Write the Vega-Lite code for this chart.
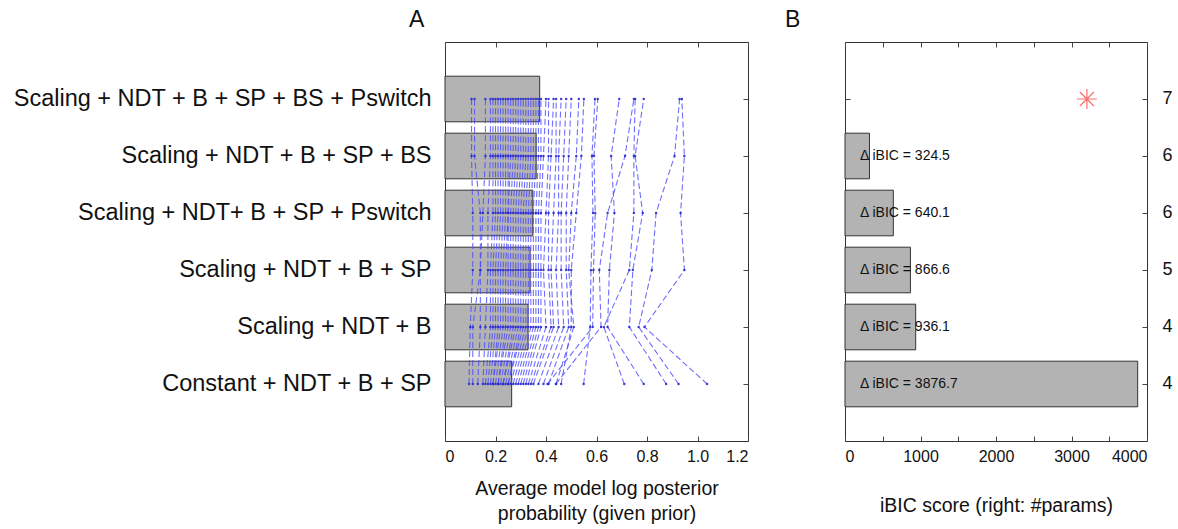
{
  "$schema": "https://vega.github.io/schema/vega-lite/v6.json",
  "background": "white",
  "padding": {"left": 11, "top": 8, "right": 2, "bottom": 2},
  "config": {
    "view": {"stroke": "#333", "strokeWidth": 1},
    "font": "Liberation Sans",
    "axis": {"domain": false, "grid": false, "tickColor": "#444", "tickSize": -5, "labelColor": "#111", "labelFont": "Liberation Sans", "titleFont": "Liberation Sans", "titleFontWeight": "normal", "titleColor": "#111"},
    "title": {"font": "Liberation Sans", "fontWeight": "normal", "fontSize": 23, "color": "#111", "anchor": "start", "frame": "group"},
    "concat": {"spacing": 35}
  },
  "datasets": {
    "models": [
      {"key": "m6", "row": 6, "model": "Scaling + NDT + B + SP + BS + Pswitch", "avg": 0.375, "dbic": 0, "label": ""},
      {"key": "m5", "row": 5, "model": "Scaling + NDT + B + SP + BS", "avg": 0.361, "dbic": 324.5, "label": "Δ iBIC = 324.5"},
      {"key": "m4", "row": 4, "model": "Scaling + NDT+ B + SP + Pswitch", "avg": 0.348, "dbic": 640.1, "label": "Δ iBIC = 640.1"},
      {"key": "m3", "row": 3, "model": "Scaling + NDT + B + SP", "avg": 0.337, "dbic": 866.6, "label": "Δ iBIC = 866.6"},
      {"key": "m2", "row": 2, "model": "Scaling + NDT + B", "avg": 0.329, "dbic": 936.1, "label": "Δ iBIC = 936.1"},
      {"key": "m1", "row": 1, "model": "Constant + NDT + B + SP", "avg": 0.264, "dbic": 3876.7, "label": "Δ iBIC = 3876.7"}
    ],
    "best": [{"model": "Scaling + NDT + B + SP + BS + Pswitch", "ibic": 3204}],
    "subjects": [
      {"s": "a", "m6": 0.938, "m5": 0.948, "m4": 0.933, "m3": 0.948, "m2": 0.790, "m1": 1.038},
      {"s": "b", "m6": 0.929, "m5": 0.909, "m4": 0.836, "m3": 0.819, "m2": 0.767, "m1": 0.925},
      {"s": "c", "m6": 0.787, "m5": 0.753, "m4": 0.783, "m3": 0.744, "m2": 0.730, "m1": 0.876},
      {"s": "d", "m6": 0.753, "m5": 0.748, "m4": 0.748, "m3": 0.730, "m2": 0.629, "m1": 0.710},
      {"s": "e", "m6": 0.748, "m5": 0.713, "m4": 0.644, "m3": 0.611, "m2": 0.618, "m1": 0.439},
      {"s": "f", "m6": 0.690, "m5": 0.658, "m4": 0.671, "m3": 0.651, "m2": 0.644, "m1": 0.787},
      {"s": "g", "m6": 0.594, "m5": 0.582, "m4": 0.586, "m3": 0.578, "m2": 0.575, "m1": 0.549},
      {"s": "h", "m6": 0.605, "m5": 0.590, "m4": 0.595, "m3": 0.588, "m2": 0.585, "m1": 0.406},
      {"s": "l1", "m6": 0.105, "m5": 0.105, "m4": 0.110, "m3": 0.110, "m2": 0.100, "m1": 0.095},
      {"s": "l2", "m6": 0.117, "m5": 0.117, "m4": 0.140, "m3": 0.140, "m2": 0.110, "m1": 0.110},
      {"s": "d1", "m6": 0.16, "m5": 0.16, "m4": 0.15, "m3": 0.14, "m2": 0.14, "m1": 0.13},
      {"s": "d2", "m6": 0.18, "m5": 0.18, "m4": 0.17, "m3": 0.17, "m2": 0.16, "m1": 0.15},
      {"s": "d3", "m6": 0.19, "m5": 0.19, "m4": 0.19, "m3": 0.18, "m2": 0.18, "m1": 0.16},
      {"s": "d4", "m6": 0.20, "m5": 0.20, "m4": 0.20, "m3": 0.19, "m2": 0.19, "m1": 0.17},
      {"s": "d5", "m6": 0.21, "m5": 0.21, "m4": 0.21, "m3": 0.20, "m2": 0.20, "m1": 0.18},
      {"s": "d6", "m6": 0.22, "m5": 0.22, "m4": 0.22, "m3": 0.21, "m2": 0.21, "m1": 0.19},
      {"s": "d7", "m6": 0.23, "m5": 0.23, "m4": 0.23, "m3": 0.22, "m2": 0.22, "m1": 0.19},
      {"s": "d8", "m6": 0.24, "m5": 0.24, "m4": 0.24, "m3": 0.23, "m2": 0.23, "m1": 0.20},
      {"s": "d9", "m6": 0.25, "m5": 0.25, "m4": 0.25, "m3": 0.24, "m2": 0.24, "m1": 0.21},
      {"s": "d10", "m6": 0.26, "m5": 0.26, "m4": 0.25, "m3": 0.25, "m2": 0.25, "m1": 0.21},
      {"s": "d11", "m6": 0.27, "m5": 0.27, "m4": 0.26, "m3": 0.26, "m2": 0.26, "m1": 0.22},
      {"s": "d12", "m6": 0.28, "m5": 0.28, "m4": 0.27, "m3": 0.27, "m2": 0.27, "m1": 0.23},
      {"s": "d13", "m6": 0.29, "m5": 0.29, "m4": 0.28, "m3": 0.28, "m2": 0.28, "m1": 0.23},
      {"s": "d14", "m6": 0.30, "m5": 0.30, "m4": 0.29, "m3": 0.29, "m2": 0.29, "m1": 0.24},
      {"s": "d15", "m6": 0.31, "m5": 0.31, "m4": 0.30, "m3": 0.30, "m2": 0.30, "m1": 0.25},
      {"s": "d16", "m6": 0.32, "m5": 0.32, "m4": 0.31, "m3": 0.31, "m2": 0.31, "m1": 0.25},
      {"s": "d17", "m6": 0.33, "m5": 0.33, "m4": 0.32, "m3": 0.32, "m2": 0.32, "m1": 0.26},
      {"s": "d18", "m6": 0.34, "m5": 0.34, "m4": 0.33, "m3": 0.33, "m2": 0.33, "m1": 0.27},
      {"s": "d19", "m6": 0.35, "m5": 0.35, "m4": 0.34, "m3": 0.34, "m2": 0.34, "m1": 0.28},
      {"s": "d20", "m6": 0.36, "m5": 0.36, "m4": 0.35, "m3": 0.35, "m2": 0.35, "m1": 0.29},
      {"s": "d21", "m6": 0.37, "m5": 0.37, "m4": 0.36, "m3": 0.36, "m2": 0.36, "m1": 0.30},
      {"s": "d22", "m6": 0.38, "m5": 0.38, "m4": 0.37, "m3": 0.37, "m2": 0.37, "m1": 0.31},
      {"s": "d23", "m6": 0.40, "m5": 0.39, "m4": 0.38, "m3": 0.38, "m2": 0.38, "m1": 0.32},
      {"s": "d24", "m6": 0.41, "m5": 0.41, "m4": 0.40, "m3": 0.39, "m2": 0.40, "m1": 0.33},
      {"s": "d25", "m6": 0.43, "m5": 0.42, "m4": 0.41, "m3": 0.41, "m2": 0.42, "m1": 0.34},
      {"s": "d26", "m6": 0.44, "m5": 0.44, "m4": 0.43, "m3": 0.42, "m2": 0.43, "m1": 0.35},
      {"s": "d27", "m6": 0.46, "m5": 0.45, "m4": 0.45, "m3": 0.44, "m2": 0.45, "m1": 0.37},
      {"s": "d28", "m6": 0.48, "m5": 0.47, "m4": 0.46, "m3": 0.46, "m2": 0.47, "m1": 0.39},
      {"s": "d29", "m6": 0.50, "m5": 0.49, "m4": 0.48, "m3": 0.48, "m2": 0.49, "m1": 0.41},
      {"s": "d30", "m6": 0.53, "m5": 0.52, "m4": 0.50, "m3": 0.49, "m2": 0.51, "m1": 0.44},
      {"s": "d31", "m6": 0.55, "m5": 0.54, "m4": 0.52, "m3": 0.50, "m2": 0.50, "m1": 0.46}
    ]
  },
  "hconcat": [
    {
      "title": {"text": "A", "dx": -36, "offset": 10},
      "width": 303,
      "height": 399,
      "layer": [
        {
          "data": {"name": "models"},
          "mark": {"type": "bar", "fill": "#b3b3b3", "stroke": "#333", "strokeWidth": 1},
          "encoding": {
            "x": {"field": "avg", "type": "quantitative", "scale": {"domain": [0, 1.2], "nice": false},
              "axis": {"orient": "bottom", "values": [0, 0.2, 0.4, 0.6, 0.8, 1.0, 1.2], "labelExpr": "datum.value == 0 ? '0' : format(datum.value, '.1f')", "labelFontSize": 16, "labelPadding": 12, "title": ["Average model log posterior", "probability (given prior)"], "titleFontSize": 19.5, "titlePadding": 15, "titleLineHeight": 25}},
            "y": {"field": "model", "type": "nominal",
              "sort": ["Scaling + NDT + B + SP + BS + Pswitch", "Scaling + NDT + B + SP + BS", "Scaling + NDT+ B + SP + Pswitch", "Scaling + NDT + B + SP", "Scaling + NDT + B", "Constant + NDT + B + SP"],
              "scale": {"paddingInner": 0.2, "paddingOuter": 0.6},
              "axis": {"orient": "left", "labelFontSize": 23.5, "labelPadding": 19, "title": null, "labelLimit": 600}}
          }
        },
        {
          "data": {"name": "subjects"},
          "transform": [
            {"fold": ["m1", "m2", "m3", "m4", "m5", "m6"], "as": ["key", "value"]},
            {"lookup": "key", "from": {"data": {"name": "models"}, "key": "key", "fields": ["model", "row"]}}
          ],
          "mark": {"type": "line", "strokeDash": [6, 3], "strokeWidth": 1.1, "color": "#4a4aff", "opacity": 0.8,
            "point": {"filled": true, "size": 6, "color": "#2a2ad0", "opacity": 0.9}},
          "encoding": {
            "x": {"field": "value", "type": "quantitative", "axis": {"orient": "top", "values": [0, 0.2, 0.4, 0.6, 0.8, 1.0, 1.2], "labels": false, "title": null}},
            "y": {"field": "model", "type": "nominal",
              "sort": ["Scaling + NDT + B + SP + BS + Pswitch", "Scaling + NDT + B + SP + BS", "Scaling + NDT+ B + SP + Pswitch", "Scaling + NDT + B + SP", "Scaling + NDT + B", "Constant + NDT + B + SP"],
              "axis": {"orient": "right", "labels": false, "title": null}},
            "detail": {"field": "s", "type": "nominal"},
            "order": {"field": "row", "type": "quantitative"}
          }
        }
      ],
      "resolve": {"axis": {"x": "independent", "y": "independent"}}
    },
    {
      "title": {"text": "B", "dx": -60, "offset": 10},
      "width": 302,
      "height": 399,
      "layer": [
        {
          "data": {"name": "models"},
          "transform": [{"filter": "datum.dbic > 0"}],
          "mark": {"type": "bar", "fill": "#b3b3b3", "stroke": "#333", "strokeWidth": 1},
          "encoding": {
            "x": {"field": "dbic", "type": "quantitative", "scale": {"domain": [0, 4000], "nice": false},
              "axis": {"orient": "bottom", "values": [0, 500, 1000, 1500, 2000, 2500, 3000, 3500, 4000], "labelExpr": "datum.value % 1000 == 0 ? '' + datum.value : ''", "labelFontSize": 16, "labelPadding": 12, "title": "iBIC score (right: #params)", "titleFontSize": 19.5, "titlePadding": 32}},
            "y": {"field": "model", "type": "nominal",
              "sort": ["Scaling + NDT + B + SP + BS + Pswitch", "Scaling + NDT + B + SP + BS", "Scaling + NDT+ B + SP + Pswitch", "Scaling + NDT + B + SP", "Scaling + NDT + B", "Constant + NDT + B + SP"],
              "scale": {"domain": ["Scaling + NDT + B + SP + BS + Pswitch", "Scaling + NDT + B + SP + BS", "Scaling + NDT+ B + SP + Pswitch", "Scaling + NDT + B + SP", "Scaling + NDT + B", "Constant + NDT + B + SP"], "paddingInner": 0.2, "paddingOuter": 0.6},
              "axis": {"orient": "left", "labels": false, "title": null}}
          }
        },
        {
          "data": {"name": "models"},
          "transform": [{"filter": "datum.dbic > 0"}],
          "mark": {"type": "text", "align": "left", "dx": 15, "fontSize": 14, "color": "#111", "font": "Liberation Sans"},
          "encoding": {
            "x": {"datum": 0, "type": "quantitative", "axis": {"orient": "top", "values": [0, 500, 1000, 1500, 2000, 2500, 3000, 3500, 4000], "labels": false, "title": null}},
            "y": {"field": "model", "type": "nominal",
              "sort": ["Scaling + NDT + B + SP + BS + Pswitch", "Scaling + NDT + B + SP + BS", "Scaling + NDT+ B + SP + Pswitch", "Scaling + NDT + B + SP", "Scaling + NDT + B", "Constant + NDT + B + SP"],
              "axis": {"orient": "right", "labelExpr": "datum.value == 'Scaling + NDT + B + SP + BS + Pswitch' ? '7' : datum.value == 'Scaling + NDT + B + SP + BS' ? '6' : datum.value == 'Scaling + NDT+ B + SP + Pswitch' ? '6' : datum.value == 'Scaling + NDT + B + SP' ? '5' : '4'", "labelFontSize": 18, "labelPadding": 20, "title": null}},
            "text": {"field": "label"}
          }
        },
        {
          "data": {"name": "best"},
          "mark": {"type": "point", "shape": "M-1,0L1,0M0,-1L0,1M-0.7,-0.7L0.7,0.7M-0.7,0.7L0.7,-0.7", "stroke": "#ff3333", "strokeWidth": 1.2, "size": 400, "filled": false},
          "encoding": {
            "x": {"field": "ibic", "type": "quantitative", "axis": null},
            "y": {"field": "model", "type": "nominal",
              "sort": ["Scaling + NDT + B + SP + BS + Pswitch", "Scaling + NDT + B + SP + BS", "Scaling + NDT+ B + SP + Pswitch", "Scaling + NDT + B + SP", "Scaling + NDT + B", "Constant + NDT + B + SP"],
              "axis": null}
          }
        }
      ],
      "resolve": {"axis": {"x": "independent", "y": "independent"}}
    }
  ]
}
